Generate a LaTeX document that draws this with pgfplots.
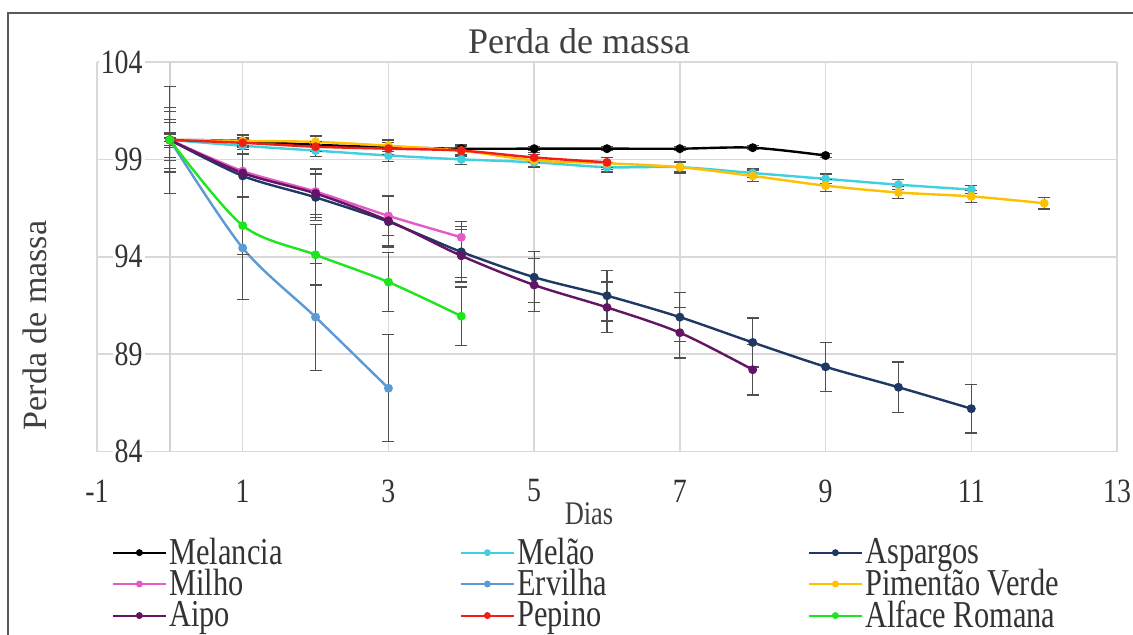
\documentclass[border=0pt]{standalone}
\usepackage{fontspec}
\setmainfont{Liberation Serif}
\newfontfamily\condfont{Liberation Serif}[FakeStretch=0.8]
\newfontfamily\tickfont{Liberation Serif}[FakeStretch=0.82]
\usepackage{pgfplots}
\pgfplotsset{compat=1.18}
\definecolor{cMelancia}{RGB}{0,0,0}
\definecolor{cMelao}{RGB}{64,208,224}
\definecolor{cAspargos}{RGB}{31,56,100}
\definecolor{cMilho}{RGB}{230,90,200}
\definecolor{cErvilha}{RGB}{91,155,213}
\definecolor{cPimentao}{RGB}{255,192,0}
\definecolor{cAipo}{RGB}{100,20,100}
\definecolor{cPepino}{RGB}{240,30,20}
\definecolor{cAlface}{RGB}{30,230,30}
\definecolor{gridgray}{RGB}{217,217,217}
\definecolor{axgray}{RGB}{210,210,210}
\definecolor{errgray}{RGB}{80,80,80}
\definecolor{framegray}{RGB}{90,90,90}
\newcommand{\rs}{\rule[-4pt]{0pt}{14pt}}
\begin{document}
\begin{tikzpicture}
\fill[white] (0,0) rectangle (566.5pt,317pt);
\begin{axis}[
  at={(48.5pt,91.25pt)}, anchor=south west,
  scale only axis, width=510pt, height=194.75pt,
  xmin=-1, xmax=13, ymin=84, ymax=104,
  xtick={-1,1,...,13}, ytick={84,89,...,104},
  axis line style={draw=none},
  major tick length=0pt,
  grid=major,
  major grid style={draw=gridgray, line width=0.75pt},
  extra x ticks={0}, extra x tick labels={},
  extra x tick style={grid=major, major grid style={draw=axgray, line width=0.75pt}},
  tick label style={font=\tickfont\fontsize{17}{20}\selectfont, text=black!80, /pgf/number format/assume math mode=true},
  xticklabel style={anchor=center, inner sep=0pt, yshift=-19.75pt},
  yticklabel style={anchor=east, inner sep=1pt, fill=white, xshift=24pt},
  every axis plot/.append style={line width=1.2pt, mark=*, mark size=1.6pt, smooth, tension=0.5,
    error bars/y dir=both, error bars/y explicit,
    error bars/error bar style={color=errgray, line width=0.6pt},
    error bars/error mark options={rotate=90, mark size=3pt, line width=0.6pt, color=errgray}},
  legend columns=3,
  legend cell align=left,
  legend style={at={(0.0147,-0.2209)}, anchor=north west, draw=none, fill=none,
    inner sep=0pt, row sep=1pt, column sep=0pt,
    font=\condfont\fontsize{19}{19}\selectfont, text=black!80,
    nodes={inner sep=0pt},
    /tikz/every odd column/.style={column sep=1.5pt}},
  legend image code/.code={\draw[mark repeat=2,mark phase=2,#1,line width=1pt,mark size=1.2pt] plot coordinates {(0pt,0pt) (13pt,0pt) (26pt,0pt)};},
]
\addplot[color=cMelancia, mark options={fill=cMelancia}] coordinates {
 (0,100) +- (0,0.1) (1,99.95) +- (0,0.1) (2,99.75) +- (0,0.1) (3,99.62) +- (0,0.1)
 (4,99.55) +- (0,0.1) (5,99.55) +- (0,0.1) (6,99.55) +- (0,0.1) (7,99.55) +- (0,0.1)
 (8,99.6) +- (0,0.1) (9,99.2) +- (0,0.1)};
\addlegendentry{\rs\makebox[145.5pt][l]{Melancia}}
\addplot[color=cMelao, mark options={fill=cMelao}] coordinates {
 (0,100) +- (0,0.4) (1,99.7) +- (0,0.4) (2,99.45) +- (0,0.3) (3,99.2) +- (0,0.3)
 (4,99.0) +- (0,0.25) (5,98.85) +- (0,0.25) (6,98.6) +- (0,0.25) (7,98.6) +- (0,0.25)
 (8,98.3) +- (0,0.25) (9,98.0) +- (0,0.25) (10,97.7) +- (0,0.25) (11,97.45) +- (0,0.2)};
\addlegendentry{\rs\makebox[145.5pt][l]{Melão}}
\addplot[color=cAspargos, mark options={fill=cAspargos}] coordinates {
 (0,100) +- (0,0.9) (1,98.15) +- (0,1.1) (2,97.05) +- (0,1.2) (3,95.8) +- (0,1.3)
 (4,94.25) +- (0,1.3) (5,92.95) +- (0,1.3) (6,92.0) +- (0,1.3) (7,90.9) +- (0,1.27)
 (8,89.6) +- (0,1.26) (9,88.35) +- (0,1.25) (10,87.3) +- (0,1.3) (11,86.2) +- (0,1.25)};
\addlegendentry{\rs Aspargos}
\addplot[color=cMilho, mark options={fill=cMilho}] coordinates {
 (0,100) +- (0,1.45) (1,98.4) +- (0,1.3) (2,97.35) +- (0,1.2) (3,96.1) +- (0,1.0) (4,95.0) +- (0,0.8)};
\addlegendentry{\rs\makebox[145.5pt][l]{Milho}}
\addplot[color=cErvilha, mark options={fill=cErvilha}] coordinates {
 (0,100) +- (0,2.75) (1,94.45) +- (0,2.65) (2,90.9) +- (0,2.75) (3,87.25) +- (0,2.75)};
\addlegendentry{\rs\makebox[145.5pt][l]{Ervilha}}
\addplot[color=cPimentao, mark options={fill=cPimentao}] coordinates {
 (0,100) +- (0,0.3) (1,99.95) +- (0,0.3) (2,99.9) +- (0,0.3) (3,99.7) +- (0,0.3)
 (4,99.45) +- (0,0.3) (5,98.95) +- (0,0.3) (6,98.8) +- (0,0.3) (7,98.6) +- (0,0.3)
 (8,98.15) +- (0,0.3) (9,97.65) +- (0,0.3) (10,97.3) +- (0,0.3) (11,97.1) +- (0,0.3) (12,96.75) +- (0,0.3)};
\addlegendentry{\rs Pimentão Verde}
\addplot[color=cAipo, mark options={fill=cAipo}] coordinates {
 (0,100) +- (0,1.05) (1,98.3) +- (0,1.2) (2,97.25) +- (0,1.25) (3,95.85) +- (0,1.3)
 (4,94.05) +- (0,1.35) (5,92.55) +- (0,1.35) (6,91.4) +- (0,1.3) (7,90.1) +- (0,1.3) (8,88.2) +- (0,1.3)};
\addlegendentry{\rs\makebox[145.5pt][l]{Aipo}}
\addplot[color=cPepino, mark options={fill=cPepino}] coordinates {
 (0,100) +- (0,0.3) (1,99.85) +- (0,0.25) (2,99.65) +- (0,0.25) (3,99.55) +- (0,0.3)
 (4,99.45) +- (0,0.25) (5,99.1) +- (0,0.25) (6,98.85) +- (0,0.25)};
\addlegendentry{\rs\makebox[145.5pt][l]{Pepino}}
\addplot[color=cAlface, mark options={fill=cAlface}] coordinates {
 (0,100) +- (0,1.65) (1,95.6) +- (0,1.5) (2,94.1) +- (0,1.55) (3,92.7) +- (0,1.5) (4,90.95) +- (0,1.5)};
\addlegendentry{\rs Alface Romana}
\end{axis}
\node[font=\fontsize{18}{21}\selectfont, text=black!75] at (289.5pt,296.25pt) {Perda de massa};
\node[font=\fontsize{17}{20}\selectfont, rotate=90, text=black!75] at (17.5pt,154.25pt) {Perda de massa};
\node[font=\condfont\fontsize{16.5}{18}\selectfont, text=black!75] at (294.5pt,60pt) {Dias};
\draw[framegray, line width=1pt] (4pt,-2pt) -- (4pt,310.5pt) -- (570pt,310.5pt);
\pgfresetboundingbox
\path (0,0) rectangle (566.5pt,317pt);
\end{tikzpicture}
\end{document}
